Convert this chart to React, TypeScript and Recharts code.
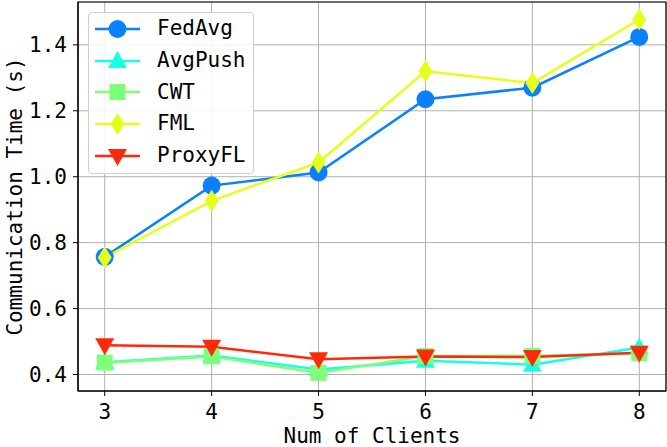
import { CartesianGrid, Line, LineChart, ReferenceArea, XAxis, YAxis } from "recharts";

const clients = [3, 4, 5, 6, 7, 8];
const fedAvg = [0.757, 0.973, 1.013, 1.235, 1.27, 1.424];
const avgPush = [0.437, 0.458, 0.415, 0.442, 0.43, 0.482];
const cwt = [0.436, 0.455, 0.405, 0.456, 0.457, 0.464];
const fml = [0.755, 0.927, 1.043, 1.32, 1.284, 1.477];
const proxyFL = [0.489, 0.484, 0.446, 0.455, 0.453, 0.466];
const yTicks = [0.4, 0.6, 0.8, 1.0, 1.2, 1.4];

const series = [
  { key: "FedAvg", values: fedAvg, color: "#0a80ff", shape: "circle" },
  { key: "AvgPush", values: avgPush, color: "#1affe4", shape: "triangle" },
  { key: "CWT", values: cwt, color: "#7dff7a", shape: "square" },
  { key: "FML", values: fml, color: "#e6ff1a", shape: "diamond" },
  { key: "ProxyFL", values: proxyFL, color: "#ff2a0a", shape: "triangleDown" },
];

const data = clients.map((c, i) => {
  const row: Record<string, number> = { clients: c };
  series.forEach((s) => (row[s.key] = s.values[i]));
  return row;
});

const FONT = "'DejaVu Sans Mono', monospace";

const marker = (shape: string, color: string, cx: number, cy: number, key?: number | string) => {
  switch (shape) {
    case "circle":
      return <circle key={key} cx={cx} cy={cy} r={9} fill={color} />;
    case "triangle":
      return <polygon key={key} points={`${cx},${cy - 10} ${cx - 9.5},${cy + 7} ${cx + 9.5},${cy + 7}`} fill={color} />;
    case "triangleDown":
      return <polygon key={key} points={`${cx},${cy + 10} ${cx - 9.5},${cy - 7} ${cx + 9.5},${cy - 7}`} fill={color} />;
    case "square":
      return <rect key={key} x={cx - 8} y={cy - 8} width={16} height={16} fill={color} />;
    default:
      return <polygon key={key} points={`${cx},${cy - 11} ${cx + 7},${cy} ${cx},${cy + 11} ${cx - 7},${cy}`} fill={color} />;
  }
};

const ChartLegend = () => (
  <div
    style={{
      position: "absolute",
      left: 88,
      top: 12,
      width: 153,
      border: "1px solid #d0d0d0",
      borderRadius: 4,
      background: "rgba(255,255,255,0.85)",
      padding: "0px 6px 2px 5px",
      fontFamily: FONT,
      fontSize: 21,
      lineHeight: "21px",
    }}
  >
    {series.map((s) => (
      <div key={s.key} style={{ display: "flex", alignItems: "center", height: 31.7 }}>
        <svg width={48} height={28} style={{ marginRight: 15, flex: "none" }}>
          <line x1={1} y1={14} x2={46} y2={14} stroke={s.color} strokeWidth={2.5} />
          {marker(s.shape, s.color, 23.5, 14)}
        </svg>
        <span style={{ color: "#000" }}>{s.key}</span>
      </div>
    ))}
  </div>
);

export default function App() {
  return (
    <div style={{ position: "relative", width: 667, height: 447 }}>
      <style>{"body{margin:0}"}</style>
      <LineChart width={667} height={447} data={data} margin={{ top: 2, right: 1, bottom: 0, left: 0 }}>
        <CartesianGrid stroke="#b0b0b0" strokeWidth={1} />
        <XAxis
          dataKey="clients"
          type="number"
          domain={[2.75, 8.25]}
          ticks={clients}
          height={56}
          stroke="#000"
          tickSize={5}
          tickMargin={8}
          tick={{ fill: "#000", fontFamily: FONT, fontSize: 21 }}
          label={{ value: "Num of Clients", position: "insideBottom", offset: 4, fill: "#000", fontFamily: FONT, fontSize: 21 }}
        />
        <YAxis
          type="number"
          domain={[0.35, 1.53]}
          ticks={yTicks}
          width={78}
          stroke="#000"
          tickSize={5}
          tickMargin={6}
          tickFormatter={(v: number) => v.toFixed(1)}
          tick={{ fill: "#000", fontFamily: FONT, fontSize: 21 }}
          label={{ value: "Communication Time (s)", angle: -90, position: "insideLeft", offset: 15, style: { textAnchor: "middle" }, fill: "#000", fontFamily: FONT, fontSize: 21 }}
        />
        <ReferenceArea x1={2.75} x2={8.25} y1={0.35} y2={1.53} fill="none" stroke="#000" strokeWidth={1.2} ifOverflow="visible" />
        {series.map((s) => (
          <Line
            key={s.key}
            dataKey={s.key}
            stroke={s.color}
            strokeWidth={2.5}
            isAnimationActive={false}
            dot={(p: any) => marker(s.shape, s.color, p.cx, p.cy, p.index)}
            activeDot={false}
          />
        ))}
      </LineChart>
      <ChartLegend />
    </div>
  );
}
